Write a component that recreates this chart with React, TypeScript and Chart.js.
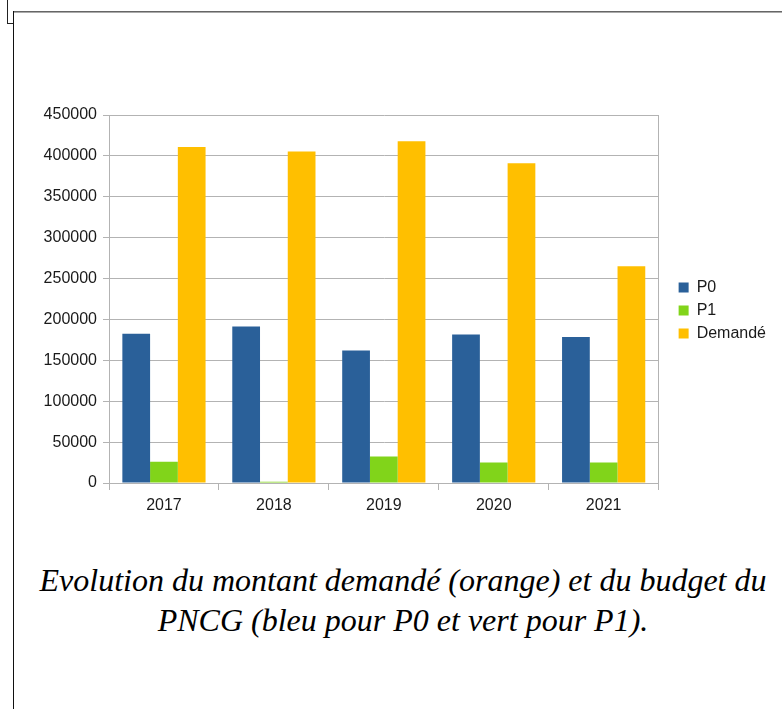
import React, { useEffect, useRef } from "react";
import { Chart, registerables } from "chart.js";

Chart.register(...registerables);

const years = ["2017", "2018", "2019", "2020", "2021"];
const p0Values = [182500, 191500, 162000, 181500, 178500];
const p1Values = [26000, 1500, 32500, 25000, 25000];
const demandeValues = [411000, 405500, 418000, 391000, 265000];
const seriesNames = ["P0", "P1", "Demandé"];
const seriesColors = ["#2a6099", "#81d41a", "#ffbf00"];
const yMin = 0;
const yMax = 450000;
const yStep = 50000;
const captionLines = [
  "Evolution du montant demandé (orange) et du budget du",
  "PNCG (bleu pour P0 et vert pour P1).",
];

const GRID = "#b3b3b3";
const TEXT = "#1a1a1a";

function ChartCanvas() {
  const ref = useRef<HTMLCanvasElement | null>(null);
  useEffect(() => {
    if (!ref.current) return;
    const font = { family: "'Liberation Sans', Arial, sans-serif", size: 16 };
    const chart = new Chart(ref.current, {
      type: "bar",
      data: {
        labels: years,
        datasets: [
          { label: seriesNames[0], data: p0Values, backgroundColor: seriesColors[0], yAxisID: "y" },
          { label: seriesNames[1], data: p1Values, backgroundColor: seriesColors[1], yAxisID: "y" },
          { label: seriesNames[2], data: demandeValues, backgroundColor: seriesColors[2], yAxisID: "y" },
        ],
      },
      options: {
        animation: false,
        responsive: false,
        devicePixelRatio: 1,
        datasets: { bar: { categoryPercentage: 0.757, barPercentage: 1.0, borderWidth: 0 } },
        layout: { padding: { top: 115, left: 0, right: 6, bottom: 17 } },
        plugins: {
          tooltip: { enabled: false },
          legend: {
            position: "right",
            fullSize: false,
            title: { display: true, text: " ", font, padding: 2 },
            labels: {
              boxWidth: 10,
              boxHeight: 10,
              padding: 7,
              color: TEXT,
              font,
            },
          },
        },
        scales: {
          x: {
            grid: { display: true, drawOnChartArea: false, drawTicks: true, tickLength: 7, color: GRID, offset: true },
            border: { display: true, color: GRID },
            ticks: { color: TEXT, font, padding: 6, maxRotation: 0 },
            afterFit: (s: any) => { s.height = 40; },
          },
          y: {
            min: yMin,
            max: yMax,
            grid: { color: GRID, tickLength: 6, drawTicks: true },
            border: { display: true, color: GRID },
            ticks: {
              stepSize: yStep,
              color: TEXT,
              font,
              padding: 6,
              callback: (v: any) => String(v),
            },
            afterFit: (s: any) => { s.width = 109; },
          },
          y2: {
            position: "right",
            display: true,
            grid: { drawOnChartArea: false, drawTicks: false },
            border: { display: true, color: GRID },
            ticks: { display: false },
            afterFit: (s: any) => { s.width = 13; },
          },
        },
      } as any,
    });
    return () => chart.destroy();
  }, []);
  return <canvas ref={ref} width={782} height={540} style={{ position: "absolute", left: 0, top: 0 }} />;
}

export default function App() {
  return (
    <div style={{ position: "absolute", left: 0, top: 0, width: 782, height: 709, background: "#fff", overflow: "hidden" }}>
      {/* frame */}
      <div style={{ position: "absolute", left: 7, top: 0, width: 1, height: 24, background: "#222" }} />
      <div style={{ position: "absolute", left: 7, top: 23, width: 7, height: 1, background: "#222" }} />
      <div style={{ position: "absolute", left: 13, top: 11, width: 769, height: 1, background: "#666" }} />
      <div style={{ position: "absolute", left: 13, top: 12, width: 769, height: 1, background: "#aaa" }} />
      <div style={{ position: "absolute", left: 13, top: 11, width: 1, height: 698, background: "#111" }} />
      <ChartCanvas />
      <div
        style={{
          position: "absolute",
          left: 24,
          top: 560,
          width: 758,
          textAlign: "center",
          fontFamily: "'Liberation Serif', 'Times New Roman', serif",
          fontStyle: "italic",
          fontSize: 32,
          lineHeight: "40px",
          color: "#000",
          whiteSpace: "nowrap",
        }}
      >
        {captionLines.map((l, i) => (
          <div key={i}>{l}</div>
        ))}
      </div>
    </div>
  );
}
